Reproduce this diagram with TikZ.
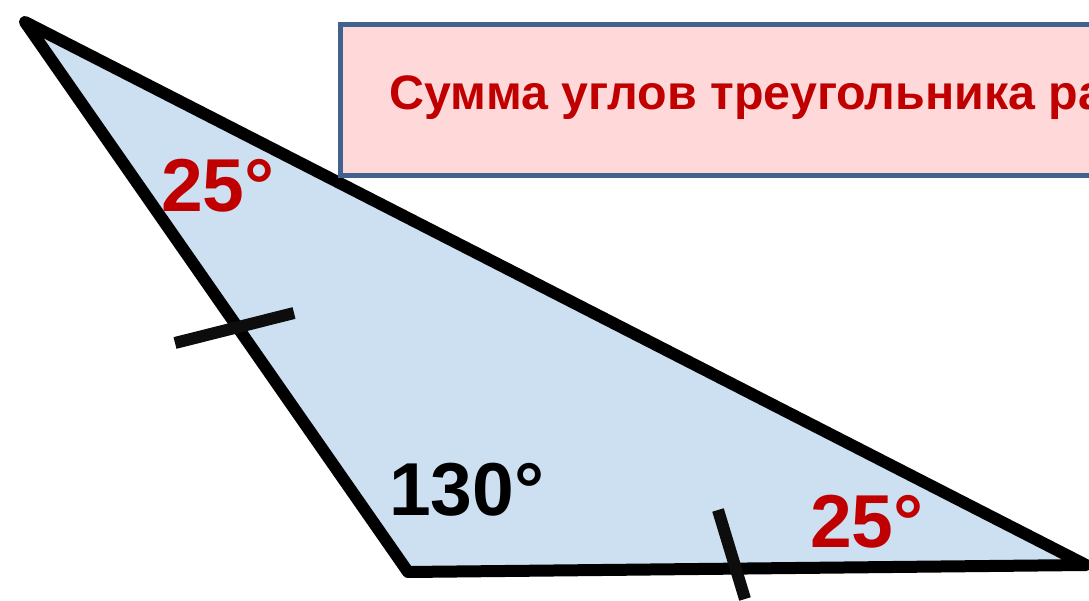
\documentclass[tikz,border=0pt]{standalone}
\usepackage{fontspec}
\setmainfont{Liberation Sans}
\definecolor{trifill}{RGB}{204,224,241}
\definecolor{boxfill}{RGB}{255,217,217}
\definecolor{boxline}{RGB}{65,98,143}
\definecolor{angred}{RGB}{192,0,0}
\begin{document}
\begin{tikzpicture}[x=1pt,y=-1pt,
  side/.style={line width=12pt,line join=round},
  tickmark/.style={line width=12pt,color=black!95},
  anglab/.style={font=\fontsize{75}{75}\selectfont\bfseries,inner sep=0pt,anchor=base west},
  titlebox/.style={draw=boxline,fill=boxfill,line width=5pt}]
\useasboundingbox (0,0) rectangle (1089,601);
\clip (0,0) rectangle (1089,601);
\coordinate (A) at (25,22);
\coordinate (B) at (408,572);
\coordinate (C) at (1086,565);
\filldraw[side,fill=trifill] (A) -- (B) -- (C) -- cycle;
\coordinate (t1a) at (175,343);
\coordinate (t1b) at (294,313);
\draw[tickmark] (t1a) -- (t1b);
\coordinate (t2a) at (718,510);
\coordinate (t2b) at (745,599);
\draw[tickmark] (t2a) -- (t2b);
\draw[titlebox] (340,25) rectangle (1130,176);
\node[anchor=base west,inner sep=0pt,text=angred,font=\fontsize{48.4}{48.4}\selectfont\bfseries] (title) at (389,110) {Сумма углов треугольника равна 180°};
\node[anglab,text=angred] (a1) at (161,212) {25°};
\node[anglab,text=black] (a2) at (389,515) {130°};
\node[anglab,text=angred] (a3) at (810,547) {25°};
\end{tikzpicture}
\end{document}
